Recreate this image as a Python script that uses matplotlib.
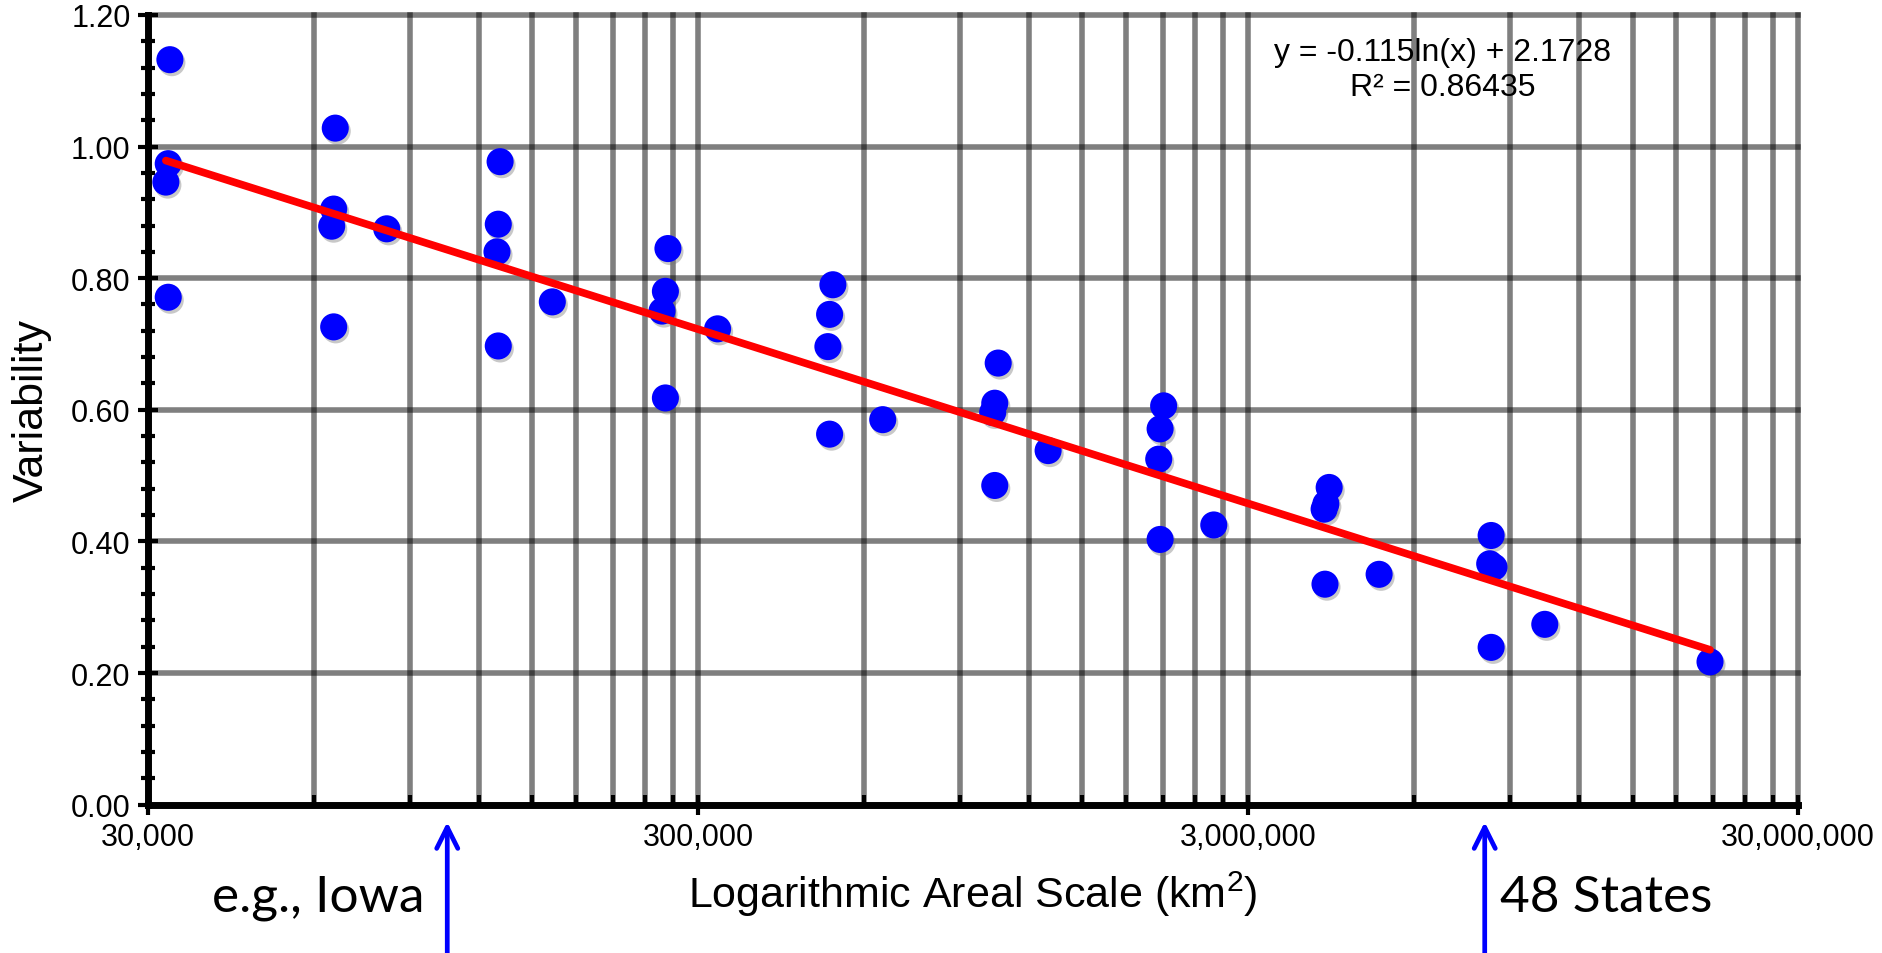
import numpy as np
import matplotlib.pyplot as plt
from matplotlib import transforms
from matplotlib.ticker import FixedLocator, MultipleLocator, FuncFormatter, NullFormatter

plt.rcParams['font.family'] = ['Liberation Sans', 'DejaVu Sans']

# areal scale (km2) and variability
area = [32880, 32650, 32330, 32650,
        65700, 65270, 64730, 65270,
        81500,
        131000, 130000, 129300, 130000,
        163000,
        264500, 261700, 258000, 261700,
        325600,
        527600, 520400, 516700, 520400,
        650000,
        1054000, 1039000, 1030000, 1039000,
        1299000,
        2107000, 2076000, 2064000, 2076000,
        2599000,
        4213000, 4155000, 4125000, 4140000,
        5193000,
        8300000, 8250000, 8400000, 8300000,
        10390000,
        20750000]
variability = [1.132, 0.974, 0.946, 0.771,
               1.028, 0.905, 0.879, 0.726,
               0.875,
               0.977, 0.882, 0.840, 0.697,
               0.764,
               0.845, 0.780, 0.750, 0.618,
               0.723,
               0.790, 0.745, 0.696, 0.563,
               0.585,
               0.671, 0.610, 0.596, 0.485,
               0.538,
               0.606, 0.571, 0.525, 0.403,
               0.425,
               0.482, 0.457, 0.449, 0.335,
               0.350,
               0.409, 0.366, 0.361, 0.239,
               0.274,
               0.217]

# log trend line from the chart label
slope = -0.115
intercept = 2.1728
r2 = 0.86435

major_x = [30000, 300000, 3000000, 30000000]
minor_x = [30000 * k * 10 ** n for n in range(3) for k in range(2, 10)]
y_ticks = [0.0, 0.2, 0.4, 0.6, 0.8, 1.0, 1.2]

marker_x = [105000, 8080000]
marker_text = ['e.g., Iowa', '48 States']

fig = plt.figure(figsize=(18.83, 9.54), dpi=100)
ax = fig.add_axes([0.0786, 0.1555, 0.8763, 0.8278])
ax.set_xscale('log')
ax.set_xlim(30000, 30000000)
ax.set_ylim(0, 1.2)

# grid, drawn by hand so the edge lines are not clipped
for v in minor_x + major_x[1:]:
    ax.axvline(v, color='black', alpha=0.5, lw=4, zorder=1, clip_on=False)
for v in y_ticks[1:]:
    ax.axhline(v, color='black', alpha=0.5, lw=4, zorder=1, clip_on=False)

# points with a soft shadow
shadow = transforms.offset_copy(ax.transData, fig=fig, x=2, y=-3, units='dots')
ax.scatter(area, variability, s=380, color='#777777', alpha=0.4, edgecolors='none',
           transform=shadow, zorder=2.8)
ax.scatter(area, variability, s=380, color='#0000FF', edgecolors='none', zorder=3)

xs = np.geomspace(min(area), max(area), 200)
ax.plot(xs, slope * np.log(xs) + intercept, color='#FF0000', lw=5.5, zorder=4,
        solid_capstyle='round')

ax.text(0.7845, 0.972, f'y = {slope}ln(x) + {intercept}\nR\u00b2 = {r2}',
        transform=ax.transAxes, ha='center', va='top', multialignment='center',
        fontsize=23, linespacing=1.2, zorder=0.5)

ax.spines['top'].set_visible(False)
ax.spines['right'].set_visible(False)
ax.spines['left'].set_linewidth(5)
ax.spines['bottom'].set_linewidth(5)
ax.set_axisbelow(False)

ax.xaxis.set_major_locator(FixedLocator(major_x))
ax.xaxis.set_minor_locator(FixedLocator(minor_x))
ax.xaxis.set_major_formatter(FuncFormatter(lambda v, p: f'{v:,.0f}'))
ax.xaxis.set_minor_formatter(NullFormatter())
ax.yaxis.set_major_locator(FixedLocator(y_ticks))
ax.yaxis.set_minor_locator(MultipleLocator(0.04))
ax.yaxis.set_major_formatter(FuncFormatter(lambda v, p: f'{v:.2f}'))

ax.tick_params(axis='both', which='major', direction='inout', length=15, width=3,
               labelsize=22)
ax.tick_params(axis='x', which='major', pad=5)
ax.tick_params(axis='y', which='major', pad=5)
ax.tick_params(axis='y', which='minor', direction='inout', length=10, width=3)
ax.tick_params(axis='x', which='minor', direction='in', length=7, width=3)

ax.set_ylabel('Variability', fontsize=31)
ax.yaxis.set_label_coords(-0.058, 0.5)
ax.set_xlabel(r'Logarithmic Areal Scale (km$^\mathregular{2}$)', fontsize=31, labelpad=12)

# reference arrows below the axis
xtrans = ax.get_xaxis_transform()
for x, label, side in zip(marker_x, marker_text, ['right', 'left']):
    ax.annotate('', xy=(x, -0.022), xycoords=xtrans, xytext=(x, -0.2),
                textcoords=xtrans, annotation_clip=False,
                arrowprops=dict(arrowstyle='->', color='#0000FF', lw=3.4,
                                mutation_scale=38, shrinkA=0, shrinkB=0))
    dx = -23 if side == 'right' else 15
    ax.annotate(label, xy=(x, -0.1346), xycoords=xtrans, xytext=(dx, 0),
                textcoords='offset pixels', ha=side, va='baseline',
                fontsize=37, family=['Lato', 'DejaVu Sans'], color='black',
                annotation_clip=False)

fig.savefig('out.png', dpi=100)
